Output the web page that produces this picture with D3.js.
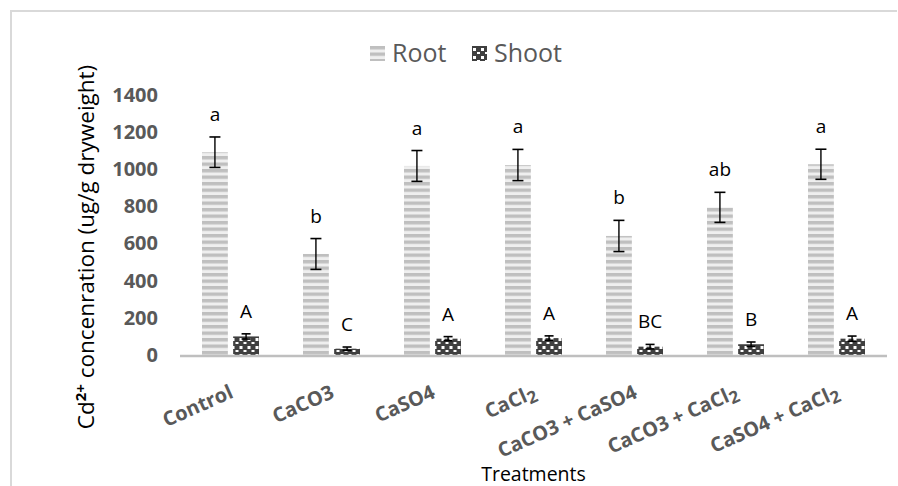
<!DOCTYPE html>
<html>
<head>
<meta charset="utf-8">
<script src="https://cdn.jsdelivr.net/npm/d3@7"></script>
<style>
  body { margin: 0; background: #fff; }
  svg { display: block; }
</style>
</head>
<body>
<div id="chart"></div>
<script>
'use strict'

// data
const categories = ["Control", "CaCO3", "CaSO4", "CaCl2", "CaCO3 + CaSO4", "CaCO3 + CaCl2", "CaSO4 + CaCl2"];
const series = ["Root", "Shoot"];
const rootValues = [1092, 544, 1018, 1023, 641, 795, 1027];
const rootErrors = [82, 83, 83, 84, 84, 81, 81];
const shootValues = [100, 34, 88, 91, 45, 58, 88];
const shootErrors = [14, 9, 11, 12, 12, 12, 14];
const rootLetters = ["a", "b", "a", "a", "b", "ab", "a"];
const shootLetters = ["A", "C", "A", "A", "BC", "B", "A"];
const yTicks = [0, 200, 400, 600, 800, 1000, 1200, 1400];

const svgWidth = 898, svgHeight = 486
const font_family = '"Open Sans", sans-serif'
const grayText = '#595959'

const svg = d3.select('#chart')
    .append('svg')
    .attr('width', svgWidth)
    .attr('height', svgHeight)

////////////////////////////////////
//////////// patterns //////////////
////////////////////////////////////

const defs = svg.append('defs')

const stripes = defs.append('pattern')
    .attr('id', 'rootPattern')
    .attr('patternUnits', 'userSpaceOnUse')
    .attr('width', 8)
    .attr('height', 6.5)
stripes.append('rect').attr('width', 8).attr('height', 6.5).attr('fill', '#efefef')
stripes.append('rect').attr('width', 8).attr('height', 3.4).attr('fill', '#bfbfbf')

const dots = defs.append('pattern')
    .attr('id', 'shootPattern')
    .attr('patternUnits', 'userSpaceOnUse')
    .attr('width', 8)
    .attr('height', 8)
dots.append('rect').attr('width', 8).attr('height', 8).attr('fill', '#3f3f3f')
dots.append('rect').attr('x', 1).attr('y', 2).attr('width', 3).attr('height', 3).attr('fill', '#fff')
dots.append('rect').attr('x', 5).attr('y', 6).attr('width', 3).attr('height', 3).attr('fill', '#fff')

////////////////////////////////////
//////////// frame /////////////////
////////////////////////////////////

svg.append('line')
    .attr('x1', 11).attr('x2', 897).attr('y1', 11).attr('y2', 11)
    .attr('stroke', '#d9d9d9').attr('stroke-width', 2)
svg.append('line')
    .attr('x1', 11).attr('x2', 11).attr('y1', 10).attr('y2', svgHeight)
    .attr('stroke', '#d9d9d9').attr('stroke-width', 2)

////////////////////////////////////
//////////// scales ////////////////
////////////////////////////////////

const x = d3.scaleBand().domain(categories).range([180, 887]).padding(0)
const x1 = d3.scaleBand().domain(series).range([-28.5, 28.5]).paddingInner(0.17)
const y = d3.scaleLinear().domain([0, 1400]).range([355, 95])

const fills = { Root: 'url(#rootPattern)', Shoot: 'url(#shootPattern)' }

const rows = categories.map((c, i) => ({
    category: c,
    bars: [
        { key: 'Root', value: rootValues[i], err: rootErrors[i], letter: rootLetters[i] },
        { key: 'Shoot', value: shootValues[i], err: shootErrors[i], letter: shootLetters[i] }
    ]
}))

////////////////////////////////////
//////////// axes //////////////////
////////////////////////////////////

const yAxis = svg.append('g')
    .attr('transform', 'translate(158,0)')
    .call(d3.axisLeft(y).tickValues(yTicks).tickFormat(d3.format('d')).tickSize(0).tickPadding(0))
yAxis.select('.domain').remove()
yAxis.selectAll('text')
    .attr('fill', grayText)
    .style('font-family', font_family)
    .style('font-weight', '700')
    .style('font-size', '20px')

////////////////////////////////////
//////////// bars //////////////////
////////////////////////////////////

const groups = svg.selectAll('.group')
    .data(rows)
    .join('g')
    .attr('class', 'group')
    .attr('transform', d => `translate(${x(d.category) + x.bandwidth() / 2},0)`)

groups.selectAll('.bar')
    .data(d => d.bars)
    .join('rect')
    .attr('class', 'bar')
    .attr('x', d => x1(d.key))
    .attr('width', x1.bandwidth())
    .attr('y', d => y(d.value))
    .attr('height', d => y(0) - y(d.value))
    .attr('fill', d => fills[d.key])

// error bars
const errs = groups.selectAll('.err')
    .data(d => d.bars)
    .join('g')
    .attr('class', 'err')
    .attr('transform', d => `translate(${x1(d.key) + x1.bandwidth() / 2},0)`)

errs.append('line')
    .attr('y1', d => y(d.value + d.err))
    .attr('y2', d => y(d.value - d.err))
    .attr('stroke', '#000').attr('stroke-width', 1.4)
errs.append('line')
    .attr('x1', d => d.key === 'Root' ? -5.5 : -4.5)
    .attr('x2', d => d.key === 'Root' ? 5.5 : 4.5)
    .attr('y1', d => y(d.value + d.err))
    .attr('y2', d => y(d.value + d.err))
    .attr('stroke', '#000').attr('stroke-width', 1.6)
errs.append('line')
    .attr('x1', d => d.key === 'Root' ? -5.5 : -4.5)
    .attr('x2', d => d.key === 'Root' ? 5.5 : 4.5)
    .attr('y1', d => y(d.value - d.err))
    .attr('y2', d => y(d.value - d.err))
    .attr('stroke', '#000').attr('stroke-width', 1.6)

// significance letters
groups.selectAll('.letter')
    .data(d => d.bars)
    .join('text')
    .attr('class', 'letter')
    .attr('x', d => x1(d.key) + x1.bandwidth() / 2)
    .attr('y', d => y(d.value + d.err) - 16)
    .attr('text-anchor', 'middle')
    .attr('fill', '#000')
    .style('font-family', font_family)
    .style('font-size', '19px')
    .text(d => d.letter)

// baseline
svg.append('line')
    .attr('x1', x.range()[0]).attr('x2', x.range()[1])
    .attr('y1', y(0) + 1).attr('y2', y(0) + 1)
    .attr('stroke', '#bfbfbf').attr('stroke-width', 2.6)

////////////////////////////////////
//////////// x labels //////////////
////////////////////////////////////

const xLabels = svg.selectAll('.xlabel')
    .data(categories)
    .join('text')
    .attr('class', 'xlabel')
    .attr('transform', d => `translate(${x(d) + x.bandwidth() / 2 + 4},397) rotate(-24)`)
    .attr('text-anchor', 'end')
    .attr('fill', grayText)
    .style('font-family', font_family)
    .style('font-weight', '700')
    .style('font-size', '20px')

// render "Cl2" with a lowered 2
xLabels.each(function (d) {
    const t = d3.select(this)
    d.split(/(Cl2)/).forEach(part => {
        if (part === 'Cl2') {
            t.append('tspan').text('Cl')
            t.append('tspan').attr('dy', 4).style('font-size', '17px').text('2')
            t.append('tspan').attr('dy', -4).text('')
        } else if (part) {
            t.append('tspan').text(part)
        }
    })
})

svg.append('text')
    .attr('x', (x.range()[0] + x.range()[1]) / 2)
    .attr('y', 481)
    .attr('text-anchor', 'middle')
    .attr('fill', '#000')
    .style('font-family', font_family)
    .style('font-size', '19.5px')
    .text('Treatments')

// y title
const yTitle = svg.append('text')
    .attr('transform', 'translate(94,247) rotate(-90)')
    .attr('text-anchor', 'middle')
    .attr('fill', '#000')
    .style('font-family', font_family)
    .style('font-size', '22.5px')
yTitle.append('tspan').text('Cd')
yTitle.append('tspan').attr('dy', -8).style('font-size', '15px').style('font-weight', '700').text('2+')
yTitle.append('tspan').attr('dy', 8).text(' concenration (ug/g dryweight)')

////////////////////////////////////
//////////// legend ////////////////
////////////////////////////////////

const legendX = [370, 472]
const legend = svg.selectAll('.legend')
    .data(series)
    .join('g')
    .attr('class', 'legend')
    .attr('transform', (d, i) => `translate(${legendX[i]},46)`)

legend.append('rect')
    .attr('width', 15).attr('height', 15)
    .attr('fill', d => fills[d])
legend.append('text')
    .attr('x', 22)
    .attr('y', 16)
    .attr('fill', grayText)
    .style('font-family', font_family)
    .style('font-size', '25px')
    .text(d => d)
</script>
</body>
</html>
